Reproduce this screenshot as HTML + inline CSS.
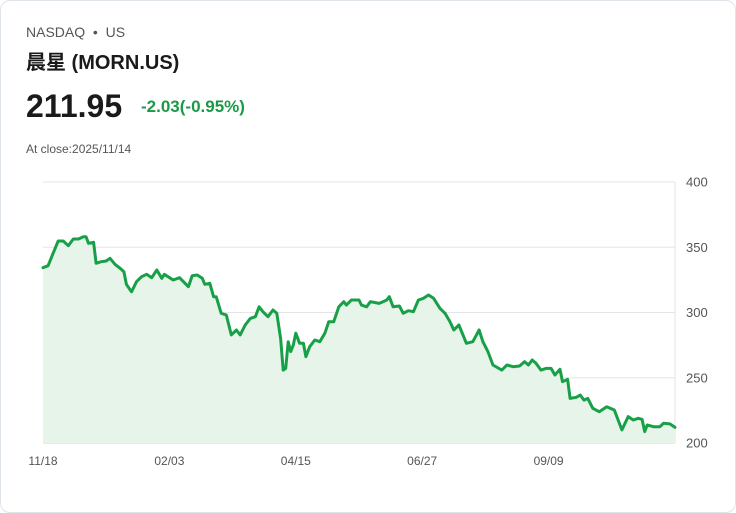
<!DOCTYPE html>
<html><head><meta charset="utf-8"><style>
body{margin:0;background:#fff;font-family:"Liberation Sans","Noto Sans CJK SC",sans-serif;}
.card{position:absolute;left:0;top:0;width:734px;height:511px;border:1px solid #dfe3ea;border-radius:10px;background:#fff;}
.t{position:absolute;white-space:nowrap;}
</style></head><body>
<div class="card">
<div class="t" style="left:25px;top:23px;font-size:14px;color:#555;">NASDAQ&nbsp; •&nbsp; US</div>
<div class="t" style="left:25px;top:45px;font-size:20px;font-weight:bold;color:#1a1a1a;">晨星 (MORN.US)</div>
<div class="t" style="left:25px;top:87px;font-size:32px;font-weight:bold;color:#1a1a1a;">211.95</div>
<div class="t" style="left:140px;top:96px;font-size:17px;font-weight:bold;color:#1a9a47;">-2.03(-0.95%)</div>
<div class="t" style="left:25px;top:141px;font-size:12px;color:#555;">At close:2025/11/14</div>
<svg id="chart" width="736" height="513" style="position:absolute;left:-1px;top:-1px"></svg>
</div>
<script>
const days=[0,2,4,6,8,10,12,14,16,17,18,20,21,23,25,26.5,28.5,30.5,32,33,35,37,39,41,43,45,47,48,51.5,54,57.5,59,61,63,64,66,67.5,68.5,70.5,72.5,74.5,76.5,78,80,82,84,85.5,87,89,91,92.5,94,95,96,97,98,99,100,101.5,103,104,105.5,107.5,109.5,111.5,113,115,117,119,120,122,125,126,128,129.5,133,136,137,138.5,141,142.5,144.5,146.5,148.5,150.5,152.5,154.5,157,159,161,162.5,164.5,167.5,170,172.5,174,176,178,181.5,183.5,186,188.5,190.5,192,193.5,195,197,199,201,202.5,204.5,205.5,207.5,208.5,211,212.5,214,215.5,217.5,220,223,226,229,231.5,233.5,235.5,237,238,239,241.5,244,245.5,248,250];
const prices=[334.3,335.9,345.4,354.8,354.8,351.2,356.3,356.3,358.1,358.1,353.0,353.8,337.7,338.9,339.5,341.5,336.9,333.9,331.3,321.6,315.9,323.6,327.4,329.3,326.7,332.6,326.2,329.3,324.9,326.7,319.8,328.2,328.7,326.2,321.6,322.4,312.1,312.1,299.4,298.1,282.8,286.6,282.8,290.4,295.5,296.8,304.4,300.6,296.8,301.9,299.4,280.2,255.9,257.2,277.6,270.0,275.1,284.1,276.4,276.4,266.1,273.8,278.9,277.6,284.1,292.9,292.9,304.4,308.3,305.7,309.6,309.6,305.7,304.4,308.3,307.0,309.6,312.1,304.4,305.0,299.4,301.4,300.6,309.6,310.9,313.4,310.9,303.2,299.4,292.9,286.6,290.4,276.4,277.6,286.6,277.6,270.0,259.8,255.9,259.8,258.5,259.0,262.3,259.8,263.6,261.1,255.9,257.2,257.2,252.1,256.5,247.0,248.8,234.2,235.0,236.8,232.9,234.2,226.6,224.0,227.8,225.3,210.0,220.2,217.6,218.9,218.1,208.7,213.8,212.5,212.5,215.1,214.6,211.95];
const yTicks=[200,250,300,350,400];
const xTickDays=[0,50,100,150,200];
const xTickLabels=["11/18","02/03","04/15","06/27","09/09"];
const X0=43,X1=675,Y0=443,Y1=182,DMAX=250,VMIN=200,VMAX=400;
const sx=d=>X0+(d/DMAX)*(X1-X0);
const sy=v=>Y0-(v-VMIN)/(VMAX-VMIN)*(Y0-Y1);
const svg=document.getElementById('chart');
const NS='http://www.w3.org/2000/svg';
function mk(tag,attrs){const e=document.createElementNS(NS,tag);for(const k in attrs)e.setAttribute(k,attrs[k]);svg.appendChild(e);return e;}
yTicks.forEach(v=>{
  const l=mk('line',{x1:X0,x2:X1,y1:sy(v),y2:sy(v),stroke:v===200?'#cfd3d8':'#e3e5e8','stroke-width':1});
  
  
  const t=mk('text',{x:686,y:sy(v)+4.5,'font-size':13,fill:'#555','font-family':'Liberation Sans, sans-serif'});
  t.textContent=v;
  
  
});
const ax=mk('line',{x1:X1,x2:X1,y1:Y1,y2:Y0,stroke:'#e3e5e8','stroke-width':1});


xTickDays.forEach((d,i)=>{
  const t=mk('text',{x:sx(d),y:465,'font-size':12,fill:'#555','text-anchor':'middle','font-family':'Liberation Sans, sans-serif'});
  t.textContent=xTickLabels[i];
  
  
});
let d='';
days.forEach((dd,i)=>{d+=(i?'L':'M')+sx(dd).toFixed(1)+' '+sy(prices[i]).toFixed(1);});
const area=mk('path',{d:d+'L'+sx(days[days.length-1])+' '+Y0+'L'+sx(days[0])+' '+Y0+'Z',fill:'#e6f4ea'});


const line=mk('path',{d:d,fill:'none',stroke:'#18a048','stroke-width':3,'stroke-linejoin':'round','stroke-linecap':'round'});


</script>
</body></html>
